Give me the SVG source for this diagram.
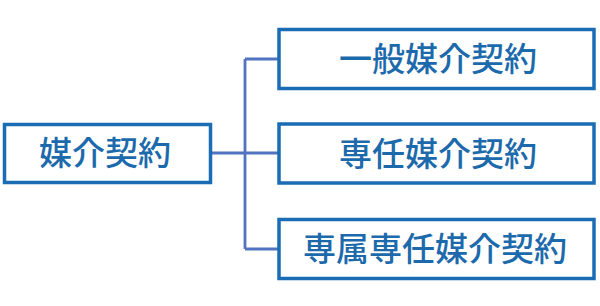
<svg xmlns="http://www.w3.org/2000/svg" width="600" height="306" viewBox="0 0 600 306">
<style>
.box{fill:#fff;stroke:#1a6db4;stroke-width:3.5}
.lbl{font-family:"Noto Sans CJK JP","Noto Sans CJK SC",sans-serif;font-size:33px;font-weight:500;fill:#1c6aac;text-anchor:middle;dominant-baseline:central}
.conn{fill:none;stroke:#5173c0;stroke-width:2.8}
</style>
<rect width="600" height="306" fill="#fff"/>
<g id="connectors">
<path class="conn" d="M212 153H245M245 59V249M245 59H279M245 153H279M245 249H279"/>
</g>
<g id="node-root">
<rect class="box" x="4.5" y="124.5" width="206" height="58"/>
<text class="lbl" x="105" y="151">媒介契約</text>
</g>
<g id="node-ippan">
<rect class="box" x="279" y="29.5" width="315" height="59"/>
<text class="lbl" x="438" y="57">一般媒介契約</text>
</g>
<g id="node-sennin">
<rect class="box" x="279" y="124" width="315" height="59"/>
<text class="lbl" x="438" y="152">専任媒介契約</text>
</g>
<g id="node-senzoku">
<rect class="box" x="279" y="219.5" width="315" height="59"/>
<text class="lbl" x="435" y="247">専属専任媒介契約</text>
</g>
</svg>
